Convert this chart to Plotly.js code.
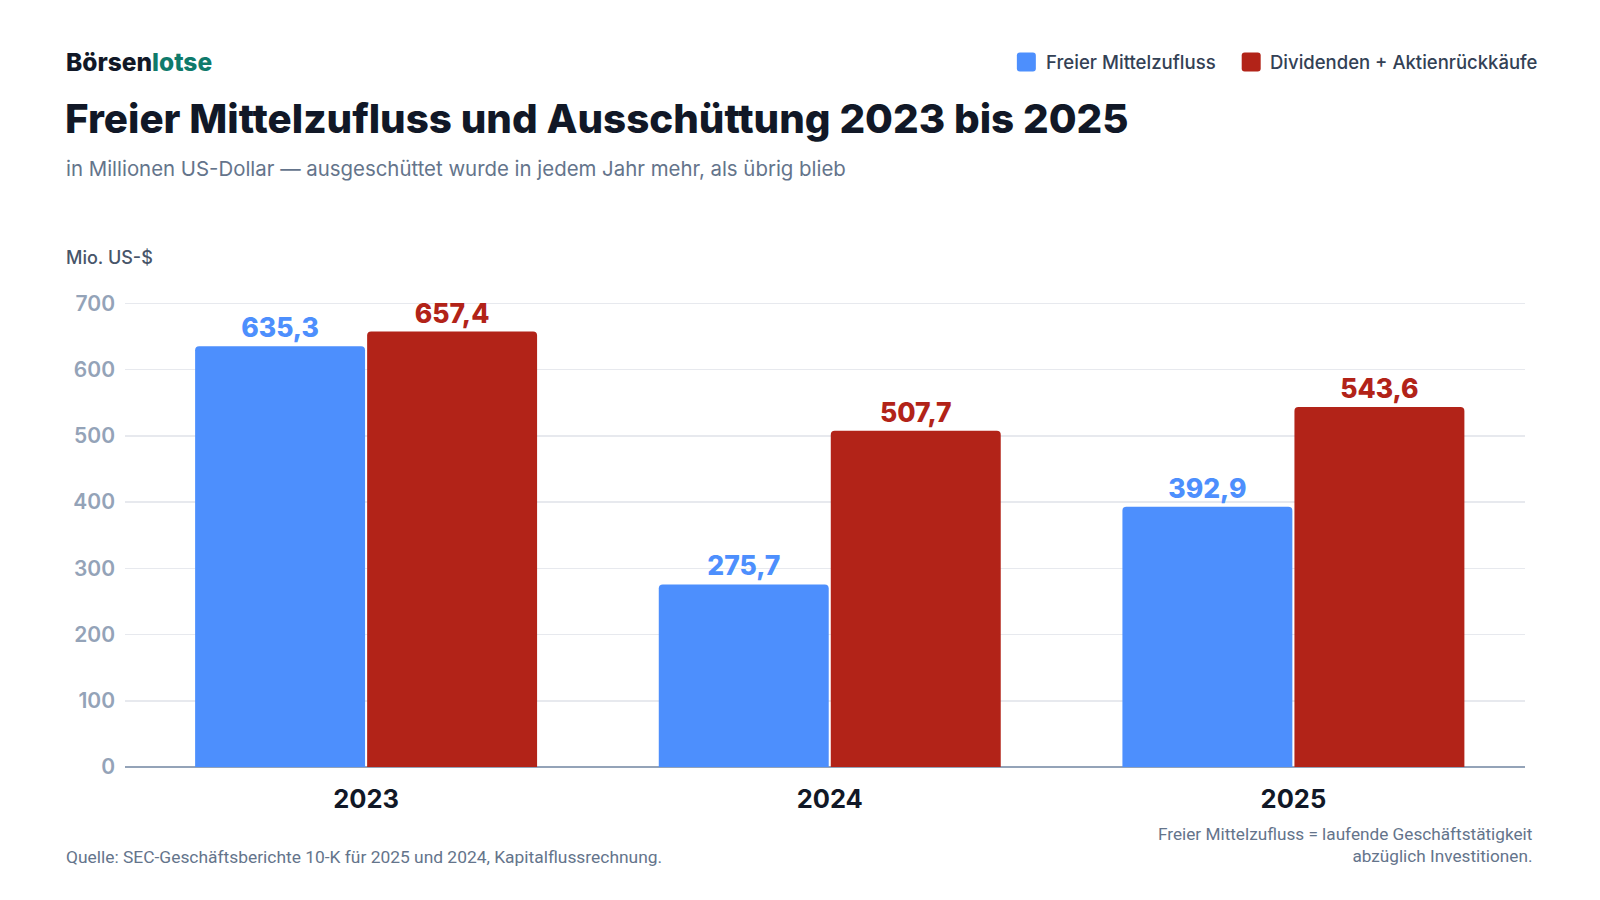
<!DOCTYPE html>
<html>
<head>
<meta charset="utf-8">
<script src="https://cdn.plot.ly/plotly-3.0.1.min.js"></script>
<style>
html,body{margin:0;padding:0;background:#fff;}
#chart{width:1600px;height:900px;}
</style>
</head>
<body>
<div id="chart"></div>
<script>
const years = ['2023', '2024', '2025'];
const seriesNames = ['Freier Mittelzufluss', 'Dividenden + Aktienrückkäufe'];
const freeCashFlow = [635.3, 275.7, 392.9];
const payouts = [657.4, 507.7, 543.6];
const yTickValues = [0, 100, 200, 300, 400, 500, 600, 700];

const blue = '#4d8ffd';
const red = '#b22318';
const font = 'Inter, "Noto Sans", sans-serif';

// plot area in pixels
const L = 124.5, R = 1525.5, T = 301.7, B = 767;
const px = x => (x - L) / (R - L);
const py = y => (B - y) / (B - T);

const traces = [
  {
    type: 'bar', name: seriesNames[0], x: years, y: freeCashFlow,
    marker: {color: blue, line: {width: 0}},
    texttemplate: '%{y:.1f}', textposition: 'outside', cliponaxis: false,
    outsidetextfont: {family: font, size: 26.5, color: blue, weight: 800},
    hoverinfo: 'skip'
  },
  {
    type: 'bar', name: seriesNames[1], x: years, y: payouts,
    marker: {color: red, line: {width: 0}},
    texttemplate: '%{y:.1f}', textposition: 'outside', cliponaxis: false,
    outsidetextfont: {family: font, size: 26.5, color: red, weight: 800},
    hoverinfo: 'skip'
  }
];

function ann(x, y, text, anchor, f, extra) {
  return Object.assign({xref: 'paper', yref: 'paper', x: px(x), y: py(y), xanchor: anchor, yanchor: 'middle',
    text: text, showarrow: false, font: f}, extra || {});
}

function roundedRect(x0, y0, x1, y1, r, color) {
  const X = v => px(v), Y = v => py(v);
  const d = 'M' + X(x0 + r) + ',' + Y(y0) +
    ' L' + X(x1 - r) + ',' + Y(y0) + ' Q' + X(x1) + ',' + Y(y0) + ' ' + X(x1) + ',' + Y(y0 + r) +
    ' L' + X(x1) + ',' + Y(y1 - r) + ' Q' + X(x1) + ',' + Y(y1) + ' ' + X(x1 - r) + ',' + Y(y1) +
    ' L' + X(x0 + r) + ',' + Y(y1) + ' Q' + X(x0) + ',' + Y(y1) + ' ' + X(x0) + ',' + Y(y1 - r) +
    ' L' + X(x0) + ',' + Y(y0 + r) + ' Q' + X(x0) + ',' + Y(y0) + ' ' + X(x0 + r) + ',' + Y(y0) + ' Z';
  return {type: 'path', xref: 'paper', yref: 'paper', path: d, fillcolor: color, line: {width: 0}};
}

const layout = {
  width: 1600, height: 900,
  margin: {l: L, r: 1600 - R, t: T, b: 900 - B},
  paper_bgcolor: '#ffffff', plot_bgcolor: '#ffffff',
  separators: ',.',
  showlegend: false,
  barmode: 'group', bargap: 0.258, bargroupgap: 0.012,
  barcornerradius: 4,
  font: {family: font},
  xaxis: {
    type: 'category', range: [-0.52, 2.4995],
    tickfont: {family: font, size: 25.5, color: '#111827', weight: 700},
    showgrid: false, zeroline: false, showline: false, ticks: '',
    ticklabelstandoff: 14
  },
  yaxis: {
    range: [0, 702], tickvals: yTickValues,
    tickfont: {family: font, size: 21, color: '#94a3b8', weight: 600},
    gridcolor: '#e7e9ee', gridwidth: 1.5,
    zeroline: true, zerolinecolor: '#94a3b8', zerolinewidth: 2,
    showline: false, ticks: '', ticklabelstandoff: 9
  },
  shapes: [
    roundedRect(1017, 52, 1036, 71, 3, blue),
    roundedRect(1242, 52, 1261, 71, 3, red)
  ],
  annotations: [
    ann(63, 62, '<span style="color:#111827">Börsen</span><span style="color:#0f7a6b">lotse</span>', 'left',
        {family: font, size: 24.5, weight: 800}),
    ann(62, 118, 'Freier Mittelzufluss und Ausschüttung 2023 bis 2025', 'left',
        {family: font, size: 40.3, color: '#111827', weight: 800}),
    ann(63, 168, 'in Millionen US-Dollar — ausgeschüttet wurde in jedem Jahr mehr, als übrig blieb', 'left',
        {family: font, size: 20.4, color: '#64748b'}),
    ann(63, 257, 'Mio. US-$', 'left', {family: font, size: 18, color: '#475569', weight: 500}),
    ann(1044, 61.5, seriesNames[0], 'left', {family: font, size: 18.6, color: '#334155', weight: 500}),
    ann(1268, 61.5, seriesNames[1], 'left', {family: font, size: 18.5, color: '#334155', weight: 500}),
    ann(63, 857, 'Quelle: SEC-Geschäftsberichte 10-K für 2025 und 2024, Kapitalflussrechnung.', 'left',
        {family: 'Roboto, sans-serif', size: 17.4, color: '#64748b'}),
    ann(1536, 845, 'Freier Mittelzufluss = laufende Geschäftstätigkeit<br>abzüglich Investitionen.', 'right',
        {family: 'Roboto, sans-serif', size: 17.2, color: '#64748b'}, {align: 'right'})
  ]
};

Plotly.newPlot('chart', traces, layout, {displayModeBar: false, staticPlot: true});
</script>
</body>
</html>
